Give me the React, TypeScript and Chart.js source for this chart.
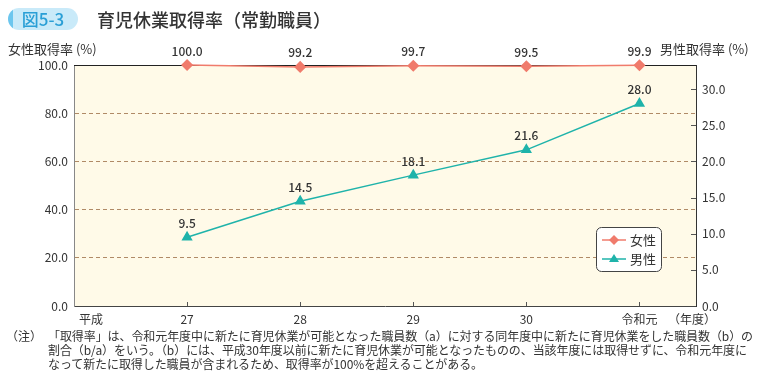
import React, { useEffect, useRef } from "react";
import { Chart, registerables } from "chart.js";

Chart.register(...registerables);

const years = [27, 28, 29, 30, 31];
const yearLabels = ["27", "28", "29", "30", "令和元"];
const femaleRates = [100.0, 99.2, 99.7, 99.5, 99.9];
const maleRates = [9.5, 14.5, 18.1, 21.6, 28.0];
const leftTicks = [0, 20, 40, 60, 80, 100];
const rightTicks = [0, 5, 10, 15, 20, 25, 30];
const noteLines = [
  "「取得率」は、令和元年度中に新たに育児休業が可能となった職員数（a）に対する同年度中に新たに育児休業をした職員数（b）の",
  "割合（b/a）をいう。（b）には、平成30年度以前に新たに育児休業が可能となったものの、当該年度には取得せずに、令和元年度に",
  "なって新たに取得した職員が含まれるため、取得率が100%を超えることがある。",
];

const FONT = '"Noto Sans CJK JP", "Noto Sans", sans-serif';
const FEMALE = "#F07B6C";
const MALE = "#1FB3AA";

const overlay = {
  id: "overlay",
  beforeDraw(chart: any) {
    const { ctx, chartArea: a } = chart;
    ctx.save();
    ctx.fillStyle = "#FFFAE8";
    ctx.fillRect(a.left, a.top, a.right - a.left, a.bottom - a.top);
    ctx.restore();
  },
  beforeDatasetsDraw(chart: any) {
    const { ctx, chartArea: a, scales } = chart;
    ctx.save();
    ctx.strokeStyle = "#222";
    ctx.lineWidth = 1;
    ctx.beginPath();
    ctx.moveTo(a.left, a.top + 0.5);
    ctx.lineTo(a.right, a.top + 0.5);
    ctx.stroke();
    ctx.strokeStyle = "#555";
    years.forEach((v) => {
      const x = Math.round(scales.x.getPixelForValue(v)) + 0.5;
      ctx.beginPath();
      ctx.moveTo(x, a.bottom);
      ctx.lineTo(x, a.bottom - 4);
      ctx.stroke();
    });
    rightTicks.forEach((v) => {
      if (v === 0) return;
      const y = Math.round(scales.y1.getPixelForValue(v)) + 0.5;
      ctx.beginPath();
      ctx.moveTo(a.right, y);
      ctx.lineTo(a.right - 5, y);
      ctx.stroke();
    });
    ctx.restore();
  },
  afterDatasetsDraw(chart: any) {
    const { ctx, chartArea: a, scales } = chart;
    ctx.save();
    ctx.fillStyle = "#333";
    ctx.font = `500 12px ${FONT}`;
    ctx.textAlign = "center";
    ctx.textBaseline = "middle";
    years.forEach((v, i) => {
      const x = scales.x.getPixelForValue(v);
      ctx.fillText(femaleRates[i].toFixed(1), x, scales.y.getPixelForValue(femaleRates[i]) - 14);
      ctx.fillText(maleRates[i].toFixed(1), x, scales.y1.getPixelForValue(maleRates[i]) - 14);
    });
    ctx.font = `12px ${FONT}`;
    ctx.fillText("平成", 91, a.bottom + 13);
    ctx.textAlign = "left";
    ctx.fillText("（年度）", 668, a.bottom + 13);
    ctx.font = `13px ${FONT}`;
    ctx.fillText("女性取得率 (%)", 8, 49);
    ctx.fillText("男性取得率 (%)", 660, 49);

    const lx = 596, ly = 227, lw = 65, lh = 44;
    ctx.beginPath();
    ctx.roundRect(lx + 0.5, ly + 0.5, lw, lh, 5);
    ctx.fillStyle = "#fff";
    ctx.fill();
    ctx.strokeStyle = "#444";
    ctx.lineWidth = 1;
    ctx.stroke();
    const rows = [
      { label: "女性", color: FEMALE, y: ly + 13, shape: "d" },
      { label: "男性", color: MALE, y: ly + 32, shape: "t" },
    ];
    rows.forEach((r) => {
      ctx.strokeStyle = r.color;
      ctx.lineWidth = 1.5;
      ctx.beginPath();
      ctx.moveTo(lx + 6, r.y);
      ctx.lineTo(lx + 30, r.y);
      ctx.stroke();
      ctx.fillStyle = r.color;
      ctx.beginPath();
      const cx = lx + 18;
      if (r.shape === "d") {
        ctx.moveTo(cx, r.y - 5);
        ctx.lineTo(cx + 5, r.y);
        ctx.lineTo(cx, r.y + 5);
        ctx.lineTo(cx - 5, r.y);
      } else {
        ctx.moveTo(cx, r.y - 5);
        ctx.lineTo(cx + 5, r.y + 3);
        ctx.lineTo(cx - 5, r.y + 3);
      }
      ctx.closePath();
      ctx.fill();
      ctx.fillStyle = "#333";
      ctx.font = `13px ${FONT}`;
      ctx.textAlign = "left";
      ctx.fillText(r.label, lx + 34, r.y);
    });
    ctx.restore();
  },
};

function ChartBox() {
  const ref = useRef<HTMLCanvasElement>(null);
  useEffect(() => {
    if (!ref.current) return;
    const chart = new Chart(ref.current, {
      type: "line",
      data: {
        datasets: [
          {
            label: "女性",
            data: years.map((x, i) => ({ x, y: femaleRates[i] })),
            yAxisID: "y",
            borderColor: FEMALE,
            backgroundColor: FEMALE,
            borderWidth: 1.5,
            pointStyle: "rectRot",
            pointRadius: 5,
            pointHoverRadius: 5,
            clip: false as any,
          },
          {
            label: "男性",
            data: years.map((x, i) => ({ x, y: maleRates[i] })),
            yAxisID: "y1",
            borderColor: MALE,
            backgroundColor: MALE,
            borderWidth: 1.5,
            pointStyle: "triangle",
            pointRadius: 5,
            pointHoverRadius: 5,
            clip: false as any,
          },
        ],
      },
      plugins: [overlay],
      options: {
        animation: false,
        responsive: false,
        maintainAspectRatio: false,
        layout: { padding: { top: 65, left: 0, right: 0, bottom: 0 } },
        plugins: { legend: { display: false }, tooltip: { enabled: false } },
        scales: {
          x: {
            type: "linear",
            min: 26,
            max: 31.5,
            afterBuildTicks: (s: any) => {
              s.ticks = years.map((v) => ({ value: v }));
            },
            afterFit: (s: any) => {
              s.height = 74;
            },
            grid: { display: false, drawTicks: false },
            border: { display: true, color: "#444" },
            ticks: {
              padding: 6,
              color: "#333",
              font: { family: FONT, size: 12 },
              callback: (v: any) => {
                const i = years.indexOf(Number(v));
                return i >= 0 ? yearLabels[i] : "";
              },
            },
          },
          y: {
            position: "left",
            min: 0,
            max: 100,
            afterBuildTicks: (s: any) => {
              s.ticks = leftTicks.map((v) => ({ value: v }));
            },
            afterFit: (s: any) => {
              s.width = 74;
            },
            grid: {
              drawTicks: false,
              color: (c: any) =>
                c.tick && (c.tick.value === 0 || c.tick.value === 100) ? "rgba(0,0,0,0)" : "#B08A66",
            },
            border: { display: true, color: "#888", dash: [4, 3] },
            ticks: {
              padding: 6,
              color: "#333",
              font: { family: FONT, size: 12 },
              callback: (v: any) => Number(v).toFixed(1),
            },
          },
          y1: {
            position: "right",
            min: 0,
            max: 100 / 3,
            afterBuildTicks: (s: any) => {
              s.ticks = rightTicks.map((v) => ({ value: v }));
            },
            afterFit: (s: any) => {
              s.width = 64;
            },
            grid: { display: false, drawTicks: false },
            border: { display: true, color: "#333" },
            ticks: {
              padding: 6,
              color: "#333",
              font: { family: FONT, size: 12 },
              callback: (v: any) => Number(v).toFixed(1),
            },
          },
        },
      },
    } as any);
    return () => chart.destroy();
  }, []);
  return <canvas ref={ref} width={760} height={380} style={{ position: "absolute", left: 0, top: 0 }} />;
}

export default function App() {
  return (
    <div
      style={{
        position: "fixed",
        left: 0,
        top: 0,
        width: 760,
        height: 380,
        background: "#fff",
        fontFamily: FONT,
        overflow: "hidden",
      }}
    >
      <ChartBox />
      <div
        style={{
          position: "absolute",
          left: 8,
          top: 8,
          width: 70,
          height: 22,
          borderRadius: 11,
          background: "linear-gradient(90deg, #6CC6EE 0px, #6CC6EE 5px, #C9EAF9 5px)",
          color: "#2A9FD6",
          fontSize: 17,
          lineHeight: "22px",
          textAlign: "center",
          fontWeight: 500,
        }}
      >
        図5-3
      </div>
      <div
        style={{
          position: "absolute",
          left: 97,
          top: 6,
          fontSize: 18,
          lineHeight: "26px",
          color: "#333",
          fontWeight: 500,
        }}
      >
        育児休業取得率（常勤職員）
      </div>
      <div
        style={{
          position: "absolute",
          left: 6,
          top: 329,
          width: 754,
          fontSize: 12,
          lineHeight: "14px",
          color: "#333",
          display: "flex",
        }}
      >
        <div style={{ width: 42, flex: "none" }}>（注）</div>
        <div style={{ flex: 1, whiteSpace: "nowrap", letterSpacing: -0.08 }}>
          {noteLines.map((l, i) => (
            <div key={i}>{l}</div>
          ))}
        </div>
      </div>
    </div>
  );
}
